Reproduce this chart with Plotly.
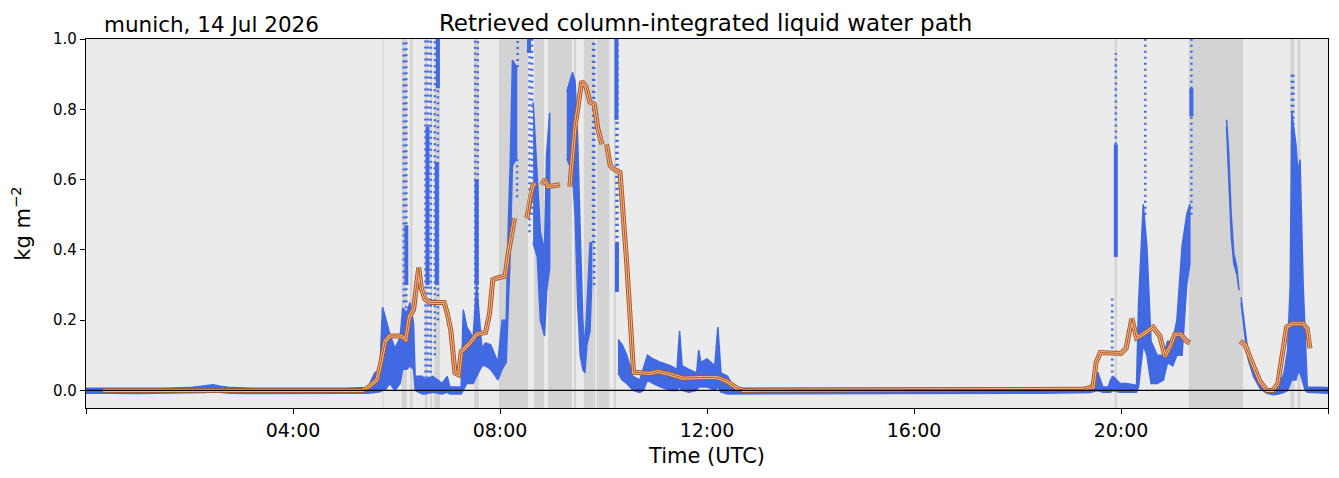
import plotly.graph_objects as go

# time in hours UTC, values in kg m-2
# dense retrieval cloud: lower / upper envelope, None splits segments
env_t = [0.0, 0.5, 1.0, 1.5, 2.0, 2.3, 2.45, 2.6, 2.8, 3.2, 3.8, 4.4, 5.0, 5.45, 5.58, 5.68,
         5.73, 5.8, 5.87, 5.97, 6.07, 6.12, 6.2, 6.26, 6.33, 6.36, 6.5, 6.55, 6.7, 6.88, 6.98,
         7.03, 7.25, 7.29, 7.36, 7.48, 7.55, 7.65, 7.72, 7.82, 7.96, 8.04, 8.12, 8.16, 8.2,
         8.24, 8.32, None,
         8.64, 8.72, 8.78, 8.86, 8.9, 8.96, None,
         9.29, 9.4, 9.45, 9.5, 9.55, 9.6, 9.64, 9.68, 9.74, 9.77, None,
         10.28, 10.36, 10.45, 10.57, 10.7, 10.77, 10.85, 10.95, 11.1, 11.3, 11.42, 11.47, 11.52,
         11.65, 11.8, 11.84, 11.88, 12.0, 12.15, 12.21, 12.27, 12.4, 12.5, 12.7, 13.5, 14.5,
         15.5, 16.5, 17.5, 18.5, 19.4, 19.46, 19.55, 19.65, 19.75, 19.8, 19.85, 19.98, 20.1,
         20.3, 20.34, 20.43, 20.5, 20.58, 20.7, 20.82, 20.9, 21.0, 21.08, 21.18, 21.27, 21.33, None,
         22.04, 22.08, 22.13, 22.18, 22.24, 22.28, None,
         22.32, 22.36, 22.4, 22.46, 22.56, 22.69, 22.82, 22.94, 23.05, 23.15, 23.22, 23.27, 23.3,
         23.38, 23.42, 23.46, 23.52, 23.56, 23.6, 24.0]
env_lo = [-0.008, -0.008, -0.009, -0.008, -0.007, -0.006, -0.004, -0.005, -0.008, -0.009, -0.008, -0.009, -0.008, -0.008, -0.006, -0.004,
          0.0, 0.005, 0.02, 0.0, 0.02, 0.06, 0.06, 0.07, 0.06, 0.0, -0.01, -0.01, -0.005, -0.01, -0.005,
          -0.01, -0.01, 0.0, 0.02, 0.02, 0.04, 0.07, 0.07, 0.06, 0.03, 0.06, 0.08, 0.21, 0.4,
          0.64, 0.66, None,
          0.42, 0.38, 0.2, 0.155, 0.28, 0.35, None,
          0.66, 0.62, 0.5, 0.25, 0.1, 0.06, 0.05, 0.13, 0.17, 0.3, None,
          0.05, 0.03, 0.02, 0.0, -0.006, 0.0, 0.03, 0.02, 0.01, 0.0, 0.0, 0.01, 0.0,
          -0.005, 0.0, 0.01, 0.01, 0.01, 0.0, 0.01, -0.005, -0.01, -0.008, -0.008, -0.009, -0.008,
          -0.008, -0.009, -0.008, -0.008, -0.006, -0.004, 0.0, -0.005, -0.005, -0.005, 0.0, -0.005, -0.005,
          -0.005, 0.01, 0.13, 0.1, 0.02, 0.02, 0.03, 0.08, 0.07, 0.1, 0.1, 0.3, 0.36, None,
          0.75, 0.63, 0.44, 0.36, 0.33, 0.285, None,
          0.25, 0.2, 0.145, 0.088, 0.04, 0.005, -0.008, -0.012, -0.01, -0.005, 0.0, 0.02, 0.03,
          0.03, 0.05, 0.05, 0.02, 0.0, -0.005, -0.008]
env_hi = [0.006, 0.006, 0.005, 0.006, 0.008, 0.012, 0.016, 0.012, 0.008, 0.006, 0.006, 0.005, 0.006, 0.008, 0.05, 0.06,
          0.237, 0.2, 0.16, 0.12, 0.15, 0.235, 0.22, 0.25, 0.19, 0.04, 0.04, 0.03, 0.04, 0.02, 0.04,
          0.01, 0.01, 0.23, 0.18, 0.15, 0.3, 0.12, 0.135, 0.13, 0.08, 0.2, 0.2, 0.47, 0.66,
          0.94, 0.92, None,
          0.82, 0.6, 0.45, 0.4, 0.67, 0.79, None,
          0.85, 0.905, 0.88, 0.72, 0.45, 0.2, 0.12, 0.25, 0.42, 0.42, None,
          0.145, 0.13, 0.1, 0.04, 0.03, 0.06, 0.1, 0.09, 0.08, 0.07, 0.06, 0.17, 0.07,
          0.06, 0.05, 0.115, 0.08, 0.09, 0.07, 0.18, 0.05, 0.04, 0.01, 0.006, 0.006, 0.006,
          0.005, 0.006, 0.006, 0.007, 0.008, 0.03, 0.052, 0.01, 0.01, 0.03, 0.04, 0.02, 0.02,
          0.015, 0.25, 0.53, 0.41, 0.14, 0.1, 0.1, 0.14, 0.14, 0.2, 0.41, 0.5, 0.53, None,
          0.77, 0.68, 0.5, 0.39, 0.35, 0.3, None,
          0.265, 0.215, 0.16, 0.1, 0.055, 0.02, 0.005, 0.0, 0.01, 0.05, 0.116, 0.3, 0.79,
          0.7, 0.62, 0.656, 0.3, 0.16, 0.01, 0.008]

# dense single columns of retrievals
col_t = [6.19, 6.6, 6.78, 6.8, 7.55, 8.56, 10.25, 10.26, 19.9, 21.36]
col_lo = [0.3, 0.3, 0.3, 0.86, 0.3, 0.96, 0.77, 0.28, 0.38, 0.78]
col_hi = [0.47, 0.75, 0.65, 1.0, 0.6, 1.0, 1.0, 0.42, 0.7, 0.86]

# sparse (dotted) columns of retrievals
spk_t = [6.14, 6.19, 6.56, 6.61, 6.66, 6.74, 6.8, 7.52, 7.57, 8.33, 8.34, 8.57, 8.62,
         9.8, 9.82, 10.25, 10.27, 19.83, 19.9, 20.47, 21.36, 23.3, 23.33]
spk_lo = [0.25, 0.2, 0.0, 0.0, 0.05, 0.1, 0.2, 0.05, 0.1, 0.55, 0.92, 0.45, 0.5,
          0.42, 0.3, 0.28, 0.4, 0.0, 0.7, 0.5, 0.5, 0.79, 0.5]
spk_hi = [1.0, 1.0, 1.0, 1.0, 1.0, 1.0, 1.0, 1.0, 1.0, 0.67, 1.0, 0.96, 1.0,
          1.0, 1.0, 1.0, 1.0, 0.27, 0.96, 1.0, 1.0, 0.9, 0.9]

# smoothed LWP, None = gap
sm_t = [0.33, 5.35, 5.45, 5.55, 5.62, 5.7, 5.78, 5.87, 6.08, 6.18, 6.25, 6.33, 6.38, 6.43, 6.48,
        6.55, 6.65, 6.92, 6.98, 7.05, 7.13, 7.2, 7.25, 7.42, 7.55, 7.72, 7.8, 7.86, 7.95, 8.1,
        8.16, 8.22, 8.28, None,
        8.52, 8.58, 8.63, 8.68, None,
        8.81, 8.87, 8.93, 9.16, None,
        9.35, 9.45, 9.58, 9.66, 9.74, 9.82, 9.89, 9.97, None,
        10.06, 10.13, 10.2, 10.32, 10.45, 10.58, 10.9, 11.05, 11.28, 11.54, 11.86, 12.19, 12.38,
        12.58, 12.7, 19.25, 19.46, 19.52, 19.6, 20.0, 20.1, 20.21, 20.3, 20.43, 20.62, 20.75,
        20.85, 20.95, 21.04, 21.15, 21.27, 21.33, None,
        22.3, 22.4, 22.53, 22.69, 22.82, 22.94, 23.03, 23.12, 23.2, 23.3, 23.52, 23.6, 23.62, 23.65]
sm_v = [0.0, 0.0, 0.008, 0.02, 0.03, 0.08, 0.14, 0.155, 0.155, 0.145, 0.21, 0.23, 0.3, 0.35, 0.29,
        0.26, 0.25, 0.25, 0.22, 0.17, 0.05, 0.045, 0.11, 0.135, 0.16, 0.165, 0.22, 0.315, 0.32, 0.325,
        0.39, 0.44, 0.49, None,
        0.49, 0.55, 0.58, 0.59, None,
        0.585, 0.6, 0.58, 0.585, None,
        0.58, 0.75, 0.88, 0.865, 0.82, 0.815, 0.745, 0.70, None,
        0.70, 0.64, 0.63, 0.62, 0.36, 0.052, 0.048, 0.054, 0.046, 0.035, 0.037, 0.037, 0.026,
        0.006, 0.0, 0.003, 0.01, 0.08, 0.108, 0.105, 0.12, 0.205, 0.15, 0.16, 0.18, 0.155,
        0.097, 0.125, 0.16, 0.16, 0.14, 0.135, None,
        0.14, 0.13, 0.08, 0.025, 0.0, 0.0, 0.02, 0.1, 0.18, 0.19, 0.19, 0.175, 0.16, 0.12]

# rain / quality flag periods
flag_start = [5.73, 6.10, 6.26, 6.55, 6.65, 6.73, 7.50, 7.98, 8.66, 8.93, 9.43, 9.62, 9.87, 10.20,
              19.88, 21.31, 23.27, 23.41]
flag_end = [5.75, 6.20, 6.31, 6.60, 6.69, 6.84, 7.59, 8.54, 8.85, 9.39, 9.47, 9.84, 10.11, 10.24,
            19.92, 22.36, 23.35, 23.47]

tick_h = [4, 8, 12, 16, 20]
tick_lbl = ['04:00', '08:00', '12:00', '16:00', '20:00']
edge_h = [0, 24]

blue = '#4169e1'
font = 'DejaVu Sans'

# build polygons of the dense cloud, one per segment
poly_x, poly_y = [], []
seg = []
for t, lo, hi in zip(env_t + [None], env_lo + [None], env_hi + [None]):
    if t is None:
        if seg:
            poly_x += [s[0] for s in seg] + [s[0] for s in seg[::-1]] + [None]
            poly_y += [s[2] for s in seg] + [s[1] for s in seg[::-1]] + [None]
        seg = []
    else:
        seg.append((t, lo, hi))


def columns(ts, los, his):
    xs, ys = [], []
    for t, lo, hi in zip(ts, los, his):
        xs += [t, t, None]
        ys += [lo, hi, None]
    return xs, ys


fig = go.Figure()

for a, b in zip(flag_start, flag_end):
    fig.add_shape(type='rect', x0=a, x1=b, y0=0, y1=1, xref='x', yref='paper',
                  fillcolor='#d3d3d3', line_width=0, layer='below')

fig.add_hline(y=0, line_color='black', line_width=1.2)

fig.add_trace(go.Scatter(x=poly_x, y=poly_y, mode='lines', fill='toself',
                         fillcolor=blue, line=dict(color=blue, width=1.5),
                         hoverinfo='skip', showlegend=False))

sx, sy = columns(spk_t, spk_lo, spk_hi)
fig.add_trace(go.Scatter(x=sx, y=sy, mode='lines',
                         line=dict(color=blue, width=2.5, dash='2px,4px'),
                         hoverinfo='skip', showlegend=False))

cx, cy = columns(col_t, col_lo, col_hi)
fig.add_trace(go.Scatter(x=cx, y=cy, mode='lines', line=dict(color=blue, width=4),
                         hoverinfo='skip', showlegend=False))

# smoothed line: dark edge, light body, dark centre
for c, w in [('#a9562a', 5), ('#f0b98e', 3), ('#b4561f', 1)]:
    fig.add_trace(go.Scatter(x=sm_t, y=sm_v, mode='lines', line=dict(color=c, width=w),
                             connectgaps=False, showlegend=False))

fig.update_layout(
    width=1339, height=478,
    margin=dict(l=86, r=11, t=39, b=70, autoexpand=False),
    paper_bgcolor='white', plot_bgcolor='#ebebeb',
    font=dict(family=font, color='black'),
    title=dict(text='Retrieved column-integrated liquid water path', x=0.527, xanchor='center',
               y=0.953, yanchor='middle', font=dict(size=23)),
    showlegend=False,
)
fig.add_annotation(text='munich, 14 Jul 2026', xref='paper', yref='paper', x=0.013, y=1.0,
                   xanchor='left', yanchor='bottom', showarrow=False, font=dict(size=21.5))

fig.update_xaxes(range=[0, 24], tickvals=tick_h, ticktext=tick_lbl, ticks='outside', ticklen=5,
                 tickcolor='black', showgrid=False, zeroline=False, showline=True, linecolor='black',
                 linewidth=1.2, mirror=True, tickfont=dict(size=19),
                 minor=dict(tickvals=edge_h, ticks='outside', ticklen=5, tickcolor='black',
                            showgrid=False),
                 title=dict(text='Time (UTC)', font=dict(size=21), standoff=8))
fig.update_yaxes(range=[-0.05, 1.0], tickvals=[0, 0.2, 0.4, 0.6, 0.8, 1.0], tickformat='.1f',
                 ticks='outside', ticklen=5, tickcolor='black', showgrid=False, zeroline=False,
                 showline=True, linecolor='black', linewidth=1.2, mirror=True,
                 tickfont=dict(size=15),
                 title=dict(text='kg m<sup>−2</sup>', font=dict(size=21), standoff=16))

fig.write_html('out.html', config={'displayModeBar': False},
               post_script="document.body.style.margin='0';")
